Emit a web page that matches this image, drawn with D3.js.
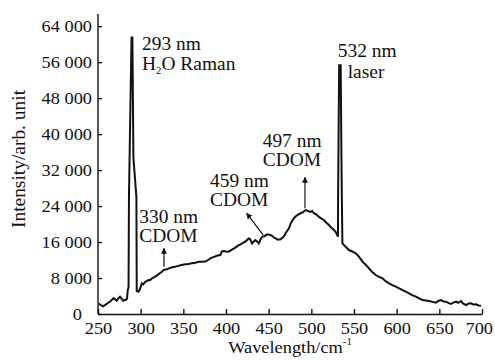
<!DOCTYPE html>
<html>
<head>
<meta charset="utf-8">
<script src="https://cdn.jsdelivr.net/npm/d3@7"></script>
<style>
  body { margin: 0; background: #fff; }
  text { font-family: "Liberation Serif", "Times New Roman", serif; fill: #111; }
</style>
</head>
<body>
<svg id="chart" width="495" height="361"></svg>
<script>
const WIDTH = 495;
const HEIGHT = 361;
const STRETCH = 1.08;

// spectrum
const wavelength = [
  251, 253, 256.2, 259, 262.1, 265, 268, 270, 272, 274, 275.9, 278, 279.7, 281, 282.5, 284, 284.9, 285.8,
  286.3, 289.3, 290.3, 291.5, 295.0, 295.4, 297.4, 299, 301.4, 303, 305, 307, 309.1, 311, 313, 317, 320,
  322, 324.9, 327, 330.7, 334, 337, 340.5, 344, 348, 352.2, 356, 360, 364, 368, 372, 375.7, 379, 381.6,
  386, 390, 393.4, 395, 397.2, 400, 403.1, 407, 411, 414, 416.9, 420, 422.7, 426.6, 428, 430.6, 432,
  434.5, 436, 438.4, 440, 442.4, 445, 448.2, 451, 454.1, 456, 458, 461, 463.9, 467.7, 470, 473.6, 476,
  479.5, 483.5, 487.4, 490, 493.2, 496, 499.1, 501, 503, 506, 508.9, 512, 514.7, 517, 520.6, 523, 526.5,
  529, 531.2, 531.4, 532.6, 534.4, 535.4, 536.4, 540.2, 544.1, 548, 552, 556, 559.9, 564, 567.6, 571,
  575.5, 579, 583.4, 587, 591.1, 595, 599, 603, 606.9, 611, 614.6, 618, 622.5, 626, 630.4, 634, 638.1,
  642, 646, 649, 651.9, 655, 657.8, 661, 663.6, 667, 669.5, 672, 675.4, 678, 681.3, 684, 687.1, 690,
  693, 696, 698.9
];
const intensity = [
  2300, 2000, 1700, 2100, 2500, 2900, 3500, 3300, 2950, 3500, 3850, 3300, 2900, 3100, 3100, 3400, 5300, 6000,
  26400, 61500, 61500, 34700, 26000, 5100, 4950, 5500, 6800, 6600, 7100, 7300, 7560, 7500, 7900, 8300, 8700,
  9000, 9400, 9800, 9950, 10200, 10400, 10500, 10700, 10900, 11040, 11100, 11300, 11400, 11600, 11600, 11650, 12000, 12370,
  12700, 13000, 13100, 13900, 14000, 13900, 13850, 14300, 14750, 15200, 15500, 15800, 16100, 16800, 16700, 15700, 16000,
  16450, 16200, 15700, 16400, 17200, 17300, 17700, 17600, 17400, 17000, 16800, 16500, 16600, 17200, 18000, 19000, 20200,
  21300, 22000, 22400, 22600, 23100, 22900, 22700, 22900, 22400, 22100, 21600, 21200, 20900, 20400, 19800, 19300, 18700,
  18100, 17200, 26900, 55300, 55300, 32000, 15700, 14960, 14220, 13900, 13480, 12700, 11630, 10900, 10150, 9400,
  8670, 8300, 7930, 7300, 6810, 6400, 6070, 5700, 5330, 4900, 4590, 4200, 3850, 3500, 3110, 3000, 2890,
  2700, 2520, 2900, 3110, 2800, 2740, 2400, 2220, 2600, 2740, 2500, 2890, 2300, 2000, 2300, 2370, 2100,
  2150, 1900, 1850
];

const xTicks = [250, 300, 350, 400, 450, 500, 550, 600, 650, 700];
const yTicks = [0, 8000, 16000, 24000, 32000, 40000, 48000, 56000, 64000];

// peak annotations: text lines, text anchor point, arrow (from -> to) in data units
const labels = [
  { lines: ['293 nm', 'H2O Raman'], x: 301.6, y: 58700, gap: 20, arrow: null },
  { lines: ['532 nm', 'laser'], x: 530.9, y: 57200, gap: 21, indent: 10, arrow: null },
  { lines: ['497 nm', 'CDOM'], x: 443, y: 37200, gap: 19, arrow: [[492.6, 23500], [492.6, 30400]] },
  { lines: ['459 nm', 'CDOM'], x: 381.3, y: 28170, gap: 19, arrow: [[443.7, 17560], [424.3, 22390]] },
  { lines: ['330 nm', 'CDOM'], x: 298.4, y: 20160, gap: 19, arrow: [[327.3, 10510], [327.3, 14600]] }
];

const margin = { top: 14, right: 13, bottom: 47, left: 98 };

const x = d3.scaleLinear().domain([250, 700]).range([margin.left, WIDTH - margin.right]);
const y = d3.scaleLinear().domain([0, 66700]).range([HEIGHT - margin.bottom, margin.top]);

const svg = d3.select('#chart');

svg.append('defs').append('marker')
  .attr('id', 'arrow')
  .attr('viewBox', '0 0 10 10')
  .attr('refX', 9)
  .attr('refY', 5)
  .attr('markerWidth', 6)
  .attr('markerHeight', 6)
  .attr('markerUnits', 'userSpaceOnUse')
  .attr('orient', 'auto')
  .append('path')
  .attr('d', 'M0,0L10,5L0,10Z')
  .attr('fill', '#111');

const fmt = d => d3.format(',')(d).replace(',', ' ');

// Axes
const xAxis = svg.append('g')
  .attr('transform', `translate(0,${y(0)})`)
  .call(d3.axisBottom(x).tickValues(xTicks).tickSize(-5).tickSizeOuter(0).tickPadding(8));

const yAxis = svg.append('g')
  .attr('transform', `translate(${x(250)},0)`)
  .call(d3.axisLeft(y).tickValues(yTicks).tickFormat(fmt).tickSize(-4).tickSizeOuter(0).tickPadding(6));

yAxis.select('.domain').attr('d', `M0,${y(0)}V${margin.top}`);

[xAxis, yAxis].forEach(a => {
  a.selectAll('.domain, .tick line').attr('stroke', '#111').attr('stroke-width', 1.4);
  a.selectAll('.tick text')
    .attr('font-size', 17)
    .attr('fill', '#111')
    .attr('transform', `scale(${STRETCH},1)`);
});
yAxis.selectAll('.tick text').attr('x', -6 / STRETCH);
// the zero sits further left, clear of the "250" below it
yAxis.selectAll('.tick text').filter(d => d === 0).attr('x', -16 / STRETCH);
// keep the last label inside the page
xAxis.selectAll('.tick text').filter(d => d === 700).attr('x', -3);

// Spectrum
const line = d3.line()
  .x((d, i) => x(wavelength[i]))
  .y(d => y(d));

svg.append('path')
  .datum(intensity)
  .attr('d', line)
  .attr('fill', 'none')
  .attr('stroke', '#111')
  .attr('stroke-width', 2)
  .attr('stroke-linejoin', 'miter');

// Annotations
labels.forEach(lb => {
  lb.lines.forEach((t, i) => {
    const tx = x(lb.x) + (i === 1 && lb.indent ? lb.indent : 0);
    const ty = y(lb.y) + i * lb.gap;
    const txt = svg.append('text')
      .attr('transform', `translate(${tx},${ty}) scale(${STRETCH},1)`)
      .attr('font-size', 18);
    if (t.startsWith('H2O')) {
      txt.append('tspan').text('H');
      txt.append('tspan').attr('font-size', 10).attr('dy', 4).text('2');
      txt.append('tspan').attr('dy', -4).text('O Raman');
    } else {
      txt.text(t);
    }
  });
  if (lb.arrow) {
    svg.append('line')
      .attr('x1', x(lb.arrow[0][0])).attr('y1', y(lb.arrow[0][1]))
      .attr('x2', x(lb.arrow[1][0])).attr('y2', y(lb.arrow[1][1]))
      .attr('stroke', '#111')
      .attr('stroke-width', 1.2)
      .attr('marker-end', 'url(#arrow)');
  }
});

// Axis titles
svg.append('text')
  .attr('transform', `translate(${(x(250) + x(700)) / 2},353) scale(${STRETCH},1)`)
  .attr('text-anchor', 'middle')
  .attr('font-size', 17)
  .call(t => {
    t.append('tspan').text('Wavelength/cm');
    t.append('tspan').attr('font-size', 10).attr('dy', -8).text('-1');
  });

svg.append('text')
  .attr('transform', `translate(25,159) rotate(-90) scale(${STRETCH},1)`)
  .attr('text-anchor', 'middle')
  .attr('font-size', 18)
  .text('Intensity/arb. unit');
</script>
</body>
</html>
